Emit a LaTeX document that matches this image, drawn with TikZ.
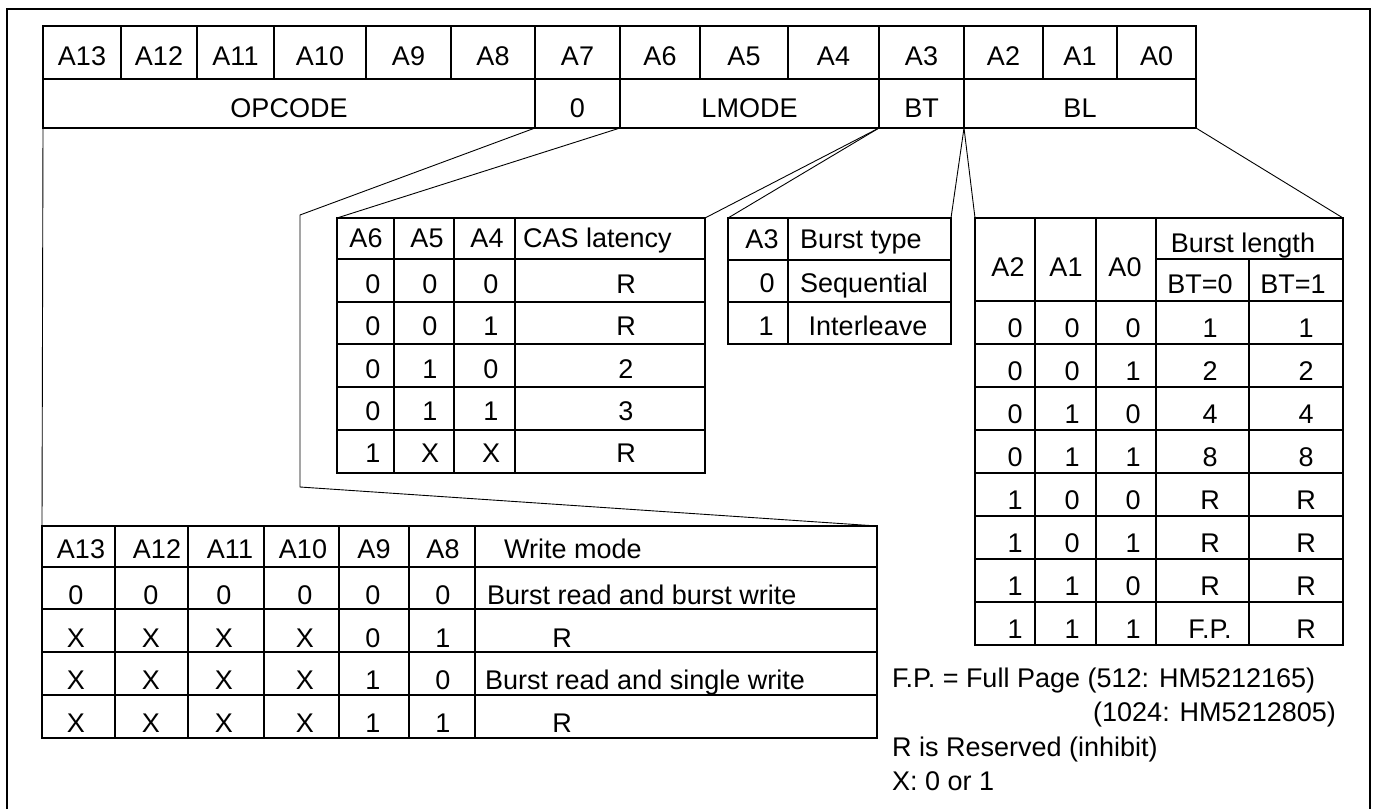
\documentclass[tikz,border=0pt]{standalone}
\usepackage{fontspec}
\setmainfont{Liberation Sans}

\begin{document}
\begin{tikzpicture}[x=1pt,y=-1pt,
        txt/.style={inner sep=0pt,anchor=base,font=\fontsize{27}{32}\selectfont},
        grid/.style={line width=1.3pt},
        link/.style={line width=0.9pt}]
    \useasboundingbox (0,0) rectangle (1379,809);
    \draw[grid](7,809)--(7,9)--(1370,9)--(1370,809);

    % mode register
    \draw[grid](43,26)rectangle(1196,128);
    \draw[grid](43,79)--(1196,79);
    \foreach \x in {121,197,274,366,451,700,788,1043,1117}
        \draw[grid](\x,26)--(\x,79);
    \foreach \x in {535,620,879,964}
        \draw[grid](\x,26)--(\x,128);
    \foreach \l/\x [count=\i] in {A13/82,A12/159,A11/235.5,A10/320,A9/408.5,A8/493,A7/577.5,A6/660,A5/744,A4/833.5,A3/921.5,A2/1003.5,A1/1080,A0/1156.5}
        \node[txt](bit\i) at (\x,65){\l};
    \foreach \l/\x/\n in {OPCODE/289/opcode,0/577.5/zero,LMODE/749.5/lmode,BT/921.5/btfield,BL/1080/blfield}
        \node[txt](\n) at (\x,117){\l};
    \coordinate(r0) at (43,128);
    \coordinate(r1) at (535,128);
    \coordinate(r2) at (620,128);
    \coordinate(r3) at (879,128);
    \coordinate(r4) at (964,128);
    \coordinate(r5) at (1196,128);

    % CAS latency
    \draw[grid](337,218)rectangle(705,473);
    \foreach \y in {259,302,344,387,430}
        \draw[grid](337,\y)--(705,\y);
    \foreach \x in {394,454,515}
        \draw[grid](\x,218)--(\x,473);
    \coordinate(cas-nw) at (337,218);
    \coordinate(cas-ne) at (705,218);
    \foreach \l/\x [count=\i] in {A6/366,A5/427,A4/487}
        \node[txt](cas-h\i) at (\x,247){\l};
    \node[txt,anchor=base west](cas-h4) at (523,247){CAS latency};
    \foreach \a/\b/\c/\v/\y [count=\r] in {0/0/0/R/293,0/0/1/R/335,0/1/0/2/378,0/1/1/3/420,1/X/X/R/462}{
        \node[txt](cas-\r-1) at (373,\y){\a};
        \node[txt](cas-\r-2) at (430,\y){\b};
        \node[txt](cas-\r-3) at (491,\y){\c};
        \node[txt](cas-\r-4) at (626,\y){\v};
    }

    % burst type
    \draw[grid](728,218)rectangle(951,344);
    \foreach \y in {260,302}
        \draw[grid](728,\y)--(951,\y);
    \draw[grid](788,218)--(788,344);
    \coordinate(bt-nw) at (728,218);
    \coordinate(bt-ne) at (951,218);
    \node[txt](bt-h1) at (762,248){A3};
    \node[txt](bt-h2) at (861,248){Burst type};
    \node[txt](bt-1-1) at (767,292){0};
    \node[txt](bt-1-2) at (864,292){Sequential};
    \node[txt](bt-2-1) at (766,335){1};
    \node[txt](bt-2-2) at (868,335){Interleave};

    % burst length
    \draw[grid](975,218)rectangle(1343,645);
    \draw[grid](1156,259)--(1343,259);
    \foreach \y in {301,344,387,430,473,516,559,602}
        \draw[grid](975,\y)--(1343,\y);
    \foreach \x in {1035,1096,1156}
        \draw[grid](\x,218)--(\x,645);
    \draw[grid](1249,259)--(1249,645);
    \coordinate(bl-nw) at (975,218);
    \coordinate(bl-ne) at (1343,218);
    \foreach \l/\x [count=\i] in {A2/1008,A1/1066,A0/1125}
        \node[txt](bl-h\i) at (\x,276){\l};
    \node[txt](bl-h4) at (1243,252){Burst length};
    \node[txt](bl-h5) at (1200,293){BT=0};
    \node[txt](bl-h6) at (1293,293){BT=1};
    \foreach \a/\b/\c/\u/\v [count=\r] in {0/0/0/1/1,0/0/1/2/2,0/1/0/4/4,0/1/1/8/8,1/0/0/R/R,1/0/1/R/R,1/1/0/R/R,1/1/1/F.P./R}{
        \node[txt](bl-\r-1) at (1015,{323+43*(\r-1)+14}){\a};
        \node[txt](bl-\r-2) at (1072,{323+43*(\r-1)+14}){\b};
        \node[txt](bl-\r-3) at (1133,{323+43*(\r-1)+14}){\c};
        \node[txt](bl-\r-4) at (1210,{323+43*(\r-1)+14}){\u};
        \node[txt](bl-\r-5) at (1306,{323+43*(\r-1)+14}){\v};
    }

    % write mode
    \draw[grid](42,526)rectangle(877,738);
    \foreach \y in {567,609,652,695}
        \draw[grid](42,\y)--(877,\y);
    \foreach \x in {115,188,264,339,409,475}
        \draw[grid](\x,526)--(\x,738);
    \coordinate(wm-nw) at (42,526);
    \coordinate(wm-ne) at (877,526);
    \foreach \l/\x [count=\i] in {A13/81,A12/157,A11/230,A10/303,A9/374,A8/443}
        \node[txt](wm-h\i) at (\x,558){\l};
    \node[txt,anchor=base west](wm-h7) at (504,558){Write mode};
    \foreach \a/\b/\c/\d/\e/\f/\y [count=\r] in {0/0/0/0/0/0/604,X/X/X/X/0/1/647,X/X/X/X/1/0/689,X/X/X/X/1/1/732}{
        \node[txt](wm-\r-1) at (76,\y){\a};
        \node[txt](wm-\r-2) at (151,\y){\b};
        \node[txt](wm-\r-3) at (224,\y){\c};
        \node[txt](wm-\r-4) at (305,\y){\d};
        \node[txt](wm-\r-5) at (373,\y){\e};
        \node[txt](wm-\r-6) at (443,\y){\f};
    }
    \node[txt,anchor=base west](wm-1-7) at (487,604){Burst read and burst write};
    \node[txt](wm-2-7) at (562,647){R};
    \node[txt,anchor=base west](wm-3-7) at (485,689){Burst read and single write};
    \node[txt](wm-4-7) at (562,732){R};

    % zoom lines
    \coordinate(bendA) at (300,215);
    \coordinate(bendB) at (300,487);
    \draw[link](r0)--(wm-nw);
    \draw[link](r1)--(bendA)--(bendB)--(wm-ne);
    \draw[link](r2)--(cas-nw);
    \draw[link](r3)--(cas-ne);
    \draw[link](r3)--(bt-nw);
    \draw[link](r4)--(bt-ne);
    \draw[link](r4)--(bl-nw);
    \draw[link](r5)--(bl-ne);

    % notes
    \node[txt,anchor=base west](note1) at (892,687){F.P. = Full Page (512: HM5212165)};
    \node[txt,anchor=base west](note2) at (1093,721){(1024: HM5212805)};
    \node[txt,anchor=base west](note3) at (892,756){R is Reserved (inhibit)};
    \node[txt,anchor=base west](note4) at (892,790){X: 0 or 1};
\end{tikzpicture}
\end{document}
